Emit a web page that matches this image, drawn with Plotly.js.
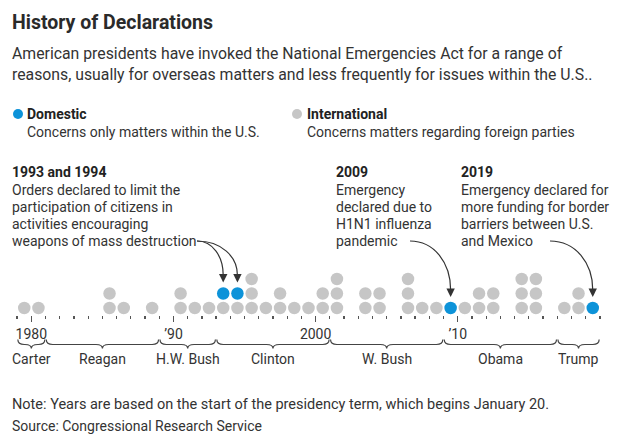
<!DOCTYPE html>
<html><head><meta charset="utf-8">
<script src="https://cdn.plot.ly/plotly-3.0.1.min.js"></script>
<style>html,body{margin:0;padding:0;background:#fff;}#chart{width:624px;height:444px;}</style>
</head><body><div id="chart"></div>
<script>
// ---- data ----
const years =         [1979,1980,1985,1986,1988,1990,1991,1992,1993,1994,1995,1996,1997,1998,1999,2000,2001,2003,2004,2006,2007,2008,2009,2010,2011,2012,2014,2015,2017,2018,2019];
const international = [1,   1,   2,   1,   1,   2,   1,   1,   1,   1,   3,   1,   2,   1,   1,   2,   3,   2,   2,   3,   1,   1,   0,   1,   2,   2,   3,   3,   1,   2,   0];
const domestic =      [0,   0,   0,   0,   0,   0,   0,   0,   1,   1,   0,   0,   0,   0,   0,   0,   0,   0,   0,   0,   0,   0,   1,   0,   0,   0,   0,   0,   0,   0,   1];
const tickYears = [1980, 1990, 2000, 2010];
const tickLabels = ['1980', '\u201990', '2000', '\u201910'];
const presidents = ['Carter', 'Reagan', 'H.W. Bush', 'Clinton', 'W. Bush', 'Obama', 'Trump'];
const termStart = [1977, 1981, 1989, 1993, 2001, 2009, 2017];
const termEnd =   [1981, 1989, 1993, 2001, 2009, 2017, 2020];
const calloutTitles = ['1993 and 1994', '2009', '2019'];
const calloutLines = [
  ['Orders declared to limit the', 'participation of citizens in', 'activities encouraging', 'weapons of mass destruction'],
  ['Emergency', 'declared due to', 'H1N1 influenza', 'pandemic'],
  ['Emergency declared for', 'more funding for border', 'barriers between U.S.', 'and Mexico']
];
const calloutYears = [[1993, 1994], [2009], [2019]];

// ---- style / geometry ----
const W = 624, H = 444;
const F = 'Roboto, "Noto Sans", sans-serif';
const BLUE = '#0d93d9', GRAY = '#c6c6c6', TXT = '#333333';
const X0 = 1978.99, X1 = 2020.01;
const PL = 17, PR = 600, PT = 150, PB = 315;
const ROW = 14.5;
const Y0 = 1 - (PB - 308) / ROW, Y1 = Y0 + (PB - PT) / ROW;
const px2x = p => X0 + (p - PL) / (PR - PL) * (X1 - X0);
const py2y = p => Y0 + (PB - p) / (PB - PT) * (Y1 - Y0);
const fx = p => p / W, fy = p => 1 - p / H;

// ---- dots ----
const ix = [], iy = [], dx = [], dy = [];
years.forEach((yr, i) => {
  for (let k = 1; k <= international[i]; k++) { ix.push(yr + 0.5); iy.push(k); }
  for (let k = 1; k <= domestic[i]; k++) { dx.push(yr + 0.5); dy.push(international[i] + k); }
});
const traces = [
  {x: ix, y: iy, type: 'scatter', mode: 'markers', marker: {size: 12.5, color: GRAY, line: {width: 0}}, hoverinfo: 'none', showlegend: false, cliponaxis: false},
  {x: dx, y: dy, type: 'scatter', mode: 'markers', marker: {size: 12.5, color: BLUE, line: {width: 0}}, hoverinfo: 'none', showlegend: false, cliponaxis: false}
];

// ---- annotations ----
const ann = [];
function txt(t, px, py, size, opts) {
  ann.push(Object.assign({text: t, xref: 'paper', yref: 'paper', x: fx(px), y: fy(py), xanchor: 'left', yanchor: 'middle',
    showarrow: false, font: {family: F, size: size, color: TXT}}, opts || {}));
}
txt('<b>History of Declarations</b>', 10, 22, 19.5, {font: {family: F, size: 19.5, color: '#2a2a2a'}});
txt('American presidents have invoked the National Emergencies Act for a range of', 10, 53, 15.8);
txt('reasons, usually for overseas matters and less frequently for issues within the U.S..', 10, 75, 15.8);
txt('<b>Domestic</b>', 25, 114, 14, {font: {family: F, size: 14, color: '#222'}});
txt('Concerns only matters within the U.S.', 25, 132, 14);
txt('<b>International</b>', 305, 114, 14, {font: {family: F, size: 14, color: '#222'}});
txt('Concerns matters regarding foreign parties', 305, 132, 14);
txt('Note: Years are based on the start of the presidency term, which begins January 20.', 10, 404, 14.5);
txt('Source: Congressional Research Service', 10, 426, 14);

const calloutX = [10, 334, 459];
calloutTitles.forEach((t, i) => {
  txt('<b>' + t + '</b>', calloutX[i], 172, 14, {font: {family: F, size: 14, color: '#222'}});
  calloutLines[i].forEach((l, j) => txt(l, calloutX[i], 190 + 17 * j, 14));
});

// president names
presidents.forEach((p, i) => {
  const a = Math.max(termStart[i], X0), b = Math.min(termEnd[i], X1);
  ann.push({text: p, xref: 'x', yref: 'paper', x: (a + b) / 2, y: fy(359), xanchor: 'center', yanchor: 'middle',
    showarrow: false, font: {family: F, size: 14, color: TXT}});
});

// ---- shapes ----
const shapes = [];
// legend dots
shapes.push({type: 'circle', xref: 'paper', yref: 'paper', x0: fx(13), x1: fx(23), y0: fy(109), y1: fy(119), fillcolor: BLUE, line: {width: 0}});
shapes.push({type: 'circle', xref: 'paper', yref: 'paper', x0: fx(292), x1: fx(302), y0: fy(109), y1: fy(119), fillcolor: GRAY, line: {width: 0}});
// braces
const yTop = fy(339.5), yMid = fy(344.5), yTip = fy(348.5);
presidents.forEach((p, i) => {
  const a = Math.max(termStart[i], 1979) + 0.05, b = Math.min(termEnd[i], 2020) - 0.05;
  const c = (a + b) / 2, d = 0.45;
  const path = `M${a},${yTop} Q${a},${yMid} ${a + d},${yMid} L${c - d},${yMid} Q${c},${yMid} ${c},${yTip} Q${c},${yMid} ${c + d},${yMid} L${b - d},${yMid} Q${b},${yMid} ${b},${yTop}`;
  shapes.push({type: 'path', xref: 'x', yref: 'paper', path: path, line: {color: '#444', width: 1.2}});
});
// callout arrows (curves + heads)
const startPx = [[197, 241], [410, 241], [550, 241]];
const TAIL = 1.25;
calloutYears.forEach((ys, i) => {
  ys.forEach(yr => {
    const idx = years.indexOf(yr);
    const top = international[idx] + domestic[idx];
    const ex = yr + 0.5, ey = top + TAIL;
    const sx = px2x(startPx[i][0]), sy = py2y(startPx[i][1]);
    const c1x = sx + (ex - sx) * 0.6, c1y = sy;
    const c2x = ex, c2y = ey + (sy - ey) * 0.55;
    shapes.push({type: 'path', xref: 'x', yref: 'y', path: `M${sx},${sy} C${c1x},${c1y} ${c2x},${c2y} ${ex},${ey}`, line: {color: '#333', width: 1.2}});
    ann.push({x: ex, y: top, xref: 'x', yref: 'y', ax: ex, ay: ey, axref: 'x', ayref: 'y', text: '', showarrow: true,
      arrowhead: 2, arrowsize: 1.4, arrowwidth: 1.2, arrowcolor: '#333', standoff: 11});
  });
});

const layout = {
  width: W, height: H, margin: {l: 0, r: 0, t: 0, b: 0},
  paper_bgcolor: '#fff', plot_bgcolor: 'rgba(0,0,0,0)', showlegend: false,
  xaxis: {domain: [PL / W, PR / W], range: [X0, X1], showgrid: false, zeroline: false, showline: false,
    tickmode: 'array', tickvals: tickYears, ticktext: tickLabels, ticks: 'outside', ticklen: 6, tickwidth: 1.3, tickcolor: '#555',
    tickfont: {family: F, size: 14, color: TXT}, fixedrange: true,
    minor: {tick0: 1979, dtick: 1, ticks: 'outside', ticklen: 3, tickwidth: 1.3, tickcolor: '#555', showgrid: false}},
  yaxis: {domain: [(H - PB) / H, (H - PT) / H], range: [Y0, Y1], visible: false, fixedrange: true},
  annotations: ann, shapes: shapes
};
Plotly.newPlot('chart', traces, layout, {displayModeBar: false, staticPlot: true});
</script>
</body></html>
